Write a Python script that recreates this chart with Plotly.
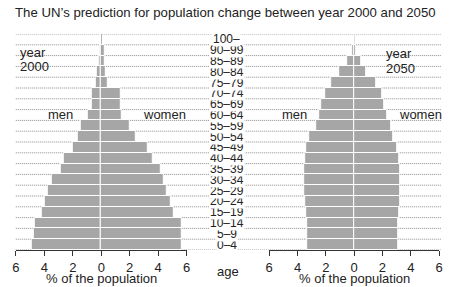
import plotly.graph_objects as go

ages = ["0–4", "5–9", "10–14", "15–19", "20–24", "25–29", "30–34", "35–39",
        "40–44", "45–49", "50–54", "55–59", "60–64", "65–69", "70–74",
        "75–79", "80–84", "85–89", "90–99", "100–"]

men_2000 = [4.88, 4.76, 4.65, 4.14, 3.96, 3.73, 3.50, 2.86, 2.63, 2.01,
            1.64, 1.44, 0.94, 0.64, 0.64, 0.41, 0.30, 0.18, 0.11, 0.0]
women_2000 = [5.66, 5.66, 5.66, 5.09, 4.86, 4.63, 4.40, 4.17, 3.60, 3.30,
              2.45, 2.00, 1.42, 1.35, 1.35, 0.46, 0.32, 0.28, 0.23, 0.0]
men_2050 = [3.35, 3.35, 3.35, 3.42, 3.48, 3.53, 3.53, 3.51, 3.48, 3.37,
            3.16, 2.70, 2.46, 2.30, 2.07, 1.59, 1.08, 0.50, 0.11, 0.0]
women_2050 = [3.11, 3.11, 3.13, 3.20, 3.24, 3.27, 3.27, 3.22, 3.15, 3.05,
              2.76, 2.60, 2.31, 2.15, 1.99, 1.57, 0.88, 0.48, 0.14, 0.0]

tick_vals = [-6, -4, -2, 0, 2, 4, 6]
tick_text = ["6", "4", "2", "0", "2", "4", "6"]

W, H = 450, 287
FONT = "Liberation Sans, Arial, Helvetica, sans-serif"
BAR = "#a6a6a6"
rows = list(range(len(ages)))

fig = go.Figure()
for men, women, xa in [(men_2000, women_2000, "x"), (men_2050, women_2050, "x2")]:
    fig.add_trace(go.Bar(y=rows, x=[-v for v in men], orientation="h", xaxis=xa, yaxis="y",
                         marker=dict(color=BAR, line=dict(color="white", width=1)),
                         showlegend=False, hoverinfo="skip"))
    fig.add_trace(go.Bar(y=rows, x=women, orientation="h", xaxis=xa, yaxis="y",
                         marker=dict(color=BAR, line=dict(color="white", width=1)),
                         showlegend=False, hoverinfo="skip"))

shapes = []
# dotted row separators
for k in range(len(ages) + 1):
    yv = k - 0.5
    shapes.append(dict(type="line", xref="paper", yref="y", x0=12 / W, x1=445 / W,
                       y0=yv, y1=yv, layer="below",
                       line=dict(color="#8a8a8a", width=1, dash="1px,1px")))
# vertical zero lines
for xr in ["x", "x2"]:
    shapes.append(dict(type="line", xref=xr, yref="y", x0=0, x1=0, y0=-0.5,
                       y1=len(ages) - 0.5, layer="below",
                       line=dict(color="#9a9a9a", width=1)))

ann = []
for i, a in enumerate(ages):
    ann.append(dict(text=a, xref="paper", yref="y", x=227 / W, y=i, showarrow=False,
                    xanchor="center", yanchor="middle", bgcolor="white", borderpad=0,
                    font=dict(size=12, color="#222", family=FONT)))

def txt(t, x, y, anchor="left", size=13):
    ann.append(dict(text=t, xref="paper", yref="paper", x=x / W, y=1 - y / H,
                    showarrow=False, xanchor=anchor, yanchor="middle",
                    font=dict(size=size, color="#222", family=FONT)))

txt("The UN’s prediction for population change between year 2000 and 2050", 9, 13, size=13.2)
txt("year", 14, 52)
txt("2000", 14, 67)
txt("men", 43, 114)
txt("women", 139, 114)
txt("year", 387, 53)
txt("2050", 387, 68)
txt("men", 281, 114)
txt("women", 400, 114)
txt("age", 228, 271, anchor="center")
txt("% of the population", 99, 278, anchor="center")
txt("% of the population", 356.7, 278, anchor="center")

axis_common = dict(range=[-6, 6], tickvals=tick_vals, ticktext=tick_text,
                   showline=True, linecolor="#333", linewidth=1, ticks="outside",
                   ticklen=5, tickcolor="#333", showgrid=False, zeroline=False,
                   tickfont=dict(size=13, color="#222", family=FONT), fixedrange=True)

fig.update_layout(
    width=W, height=H,
    margin=dict(l=0, r=0, t=0, b=0),
    paper_bgcolor="white", plot_bgcolor="rgba(0,0,0,0)",
    barmode="overlay", bargap=0,
    xaxis=dict(domain=[12 / W, 186 / W], anchor="y", **axis_common),
    xaxis2=dict(domain=[270 / W, 443 / W], anchor="y", **axis_common),
    yaxis=dict(domain=[1 - 250 / H, 1 - 34 / H], range=[-0.5, len(ages) - 0.5],
               visible=False, fixedrange=True),
    shapes=shapes, annotations=ann,
    font=dict(family=FONT),
)

fig.write_html("out.html", config={"displayModeBar": False},
               post_script="document.body.style.margin='0';document.body.style.overflow='hidden';")
